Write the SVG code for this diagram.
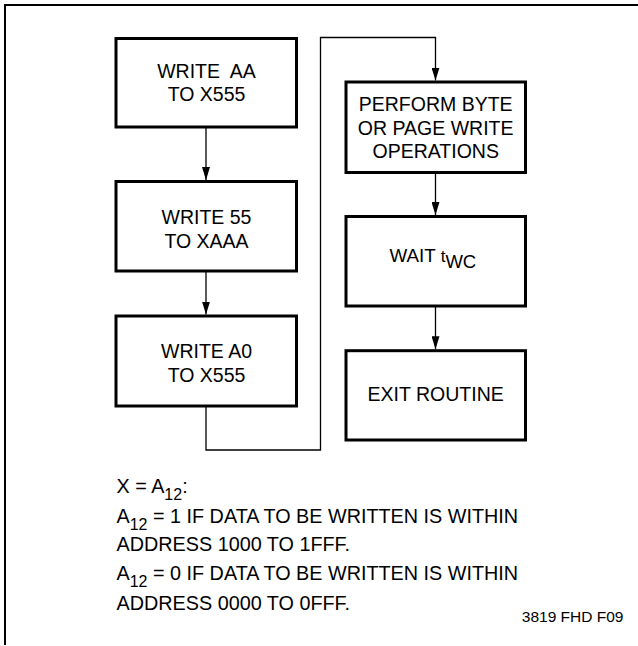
<svg xmlns="http://www.w3.org/2000/svg" width="638" height="646" viewBox="0 0 638 646">
<style>
  .box { fill: #fff; stroke: #000; stroke-width: 3; }
  .frame { fill: none; stroke: #000; stroke-width: 2; }
  .conn { fill: none; stroke: #000; stroke-width: 1.3; }
  text { font-family: "Liberation Sans", Arial, sans-serif; font-size: 19.5px; fill: #000; }
  .c { text-anchor: middle; }
  .n { font-size: 19.8px; }
  .sub { font-size: 16px; }
</style>
<defs>
  <marker id="ah" viewBox="-4 -13 8 13" refX="0" refY="0" markerWidth="8" markerHeight="13" markerUnits="userSpaceOnUse" orient="0">
    <path d="M-4,-13 L4,-13 L0,0 Z" fill="#000"/>
  </marker>
</defs>
<rect width="638" height="646" fill="#fff"/>
<g id="frame">
  <path class="frame" d="M5,645 V5 H638"/>
</g>
<g id="connectors">
  <path class="conn" d="M206,127 V180" marker-end="url(#ah)"/>
  <path class="conn" d="M206,271 V314.5" marker-end="url(#ah)"/>
  <path class="conn" d="M206,406 V450 H320.5 V37.5 H435.5 V80.5" marker-end="url(#ah)"/>
  <path class="conn" d="M435.5,172.5 V215" marker-end="url(#ah)"/>
  <path class="conn" d="M435.5,306 V349.2" marker-end="url(#ah)"/>
</g>
<g id="n1">
  <rect class="box" x="116" y="38.5" width="180.5" height="88.5"/>
  <text class="c" x="206.5" y="78" xml:space="preserve">WRITE  AA</text>
  <text class="c" x="206.5" y="100.5">TO X555</text>
</g>
<g id="n2">
  <rect class="box" x="116" y="181.5" width="180.5" height="89.5"/>
  <text class="c" x="206.5" y="224">WRITE 55</text>
  <text class="c" x="206.5" y="247.5">TO XAAA</text>
</g>
<g id="n3">
  <rect class="box" x="116" y="316" width="180.5" height="90"/>
  <text class="c" x="206.5" y="357.7">WRITE A0</text>
  <text class="c" x="206.5" y="381.7">TO X555</text>
</g>
<g id="n4">
  <rect class="box" x="346" y="82" width="179.5" height="90.5"/>
  <text class="c" x="435.7" y="111">PERFORM BYTE</text>
  <text class="c" x="435.7" y="134.5">OR PAGE WRITE</text>
  <text class="c" x="435.7" y="157.5">OPERATIONS</text>
</g>
<g id="n5">
  <rect class="box" x="346" y="216.5" width="179.5" height="89.5"/>
  <text x="389.5" y="262.3" style="font-size:18.8px">WAIT <tspan style="font-size:17px">t</tspan><tspan dy="6" style="font-size:18.5px">WC</tspan></text>
</g>
<g id="n6">
  <rect class="box" x="346" y="350.7" width="179.5" height="89.3"/>
  <text class="c" x="435.7" y="400.7">EXIT ROUTINE</text>
</g>
<g id="notes">
  <text class="n" x="116.5" y="493">X = A<tspan class="sub" dy="7">12</tspan><tspan dy="-7">:</tspan></text>
  <text class="n" x="116.5" y="522.7">A<tspan class="sub" dy="7">12</tspan><tspan dy="-7"> = 1 IF DATA TO BE WRITTEN IS WITHIN</tspan></text>
  <text class="n" x="116.5" y="551">ADDRESS 1000 TO 1FFF.</text>
  <text class="n" x="116.5" y="580">A<tspan class="sub" dy="7">12</tspan><tspan dy="-7"> = 0 IF DATA TO BE WRITTEN IS WITHIN</tspan></text>
  <text class="n" x="116.5" y="609.5">ADDRESS 0000 TO 0FFF.</text>
  <text x="623.5" y="621.7" style="font-size:15.5px;text-anchor:end">3819 FHD F09</text>
</g>
</svg>
